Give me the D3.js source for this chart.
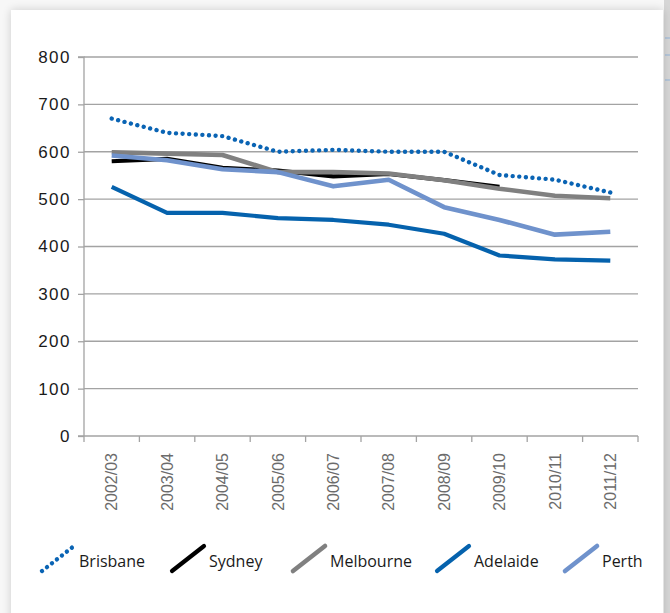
<!DOCTYPE html>
<html>
<head>
<meta charset="utf-8">
<script src="https://cdn.jsdelivr.net/npm/d3@7"></script>
<style>
  html, body { margin: 0; padding: 0; background: #ffffff; }
  svg { display: block; }
</style>
</head>
<body>
<svg id="chart" width="670" height="613"></svg>
<script>
// Financial years on the category axis
const years = ["2002/03", "2003/04", "2004/05", "2005/06", "2006/07",
               "2007/08", "2008/09", "2009/10", "2010/11", "2011/12"];

// Series values per city (Sydney has no data for the last two years)
const brisbane  = [670, 640, 633, 600, 604, 600, 600, 551, 541, 514];
const sydney    = [580, 585, 566, 560, 548, 553, 540, 526, null, null];
const melbourne = [599, 596, 593, 557, 557, 554, 540, 522, 507, 502];
const adelaide  = [526, 471, 471, 460, 456, 446, 427, 381, 373, 370];
const perth     = [592, 582, 563, 557, 527, 541, 483, 456, 425, 431];

const seriesNames = ["Brisbane", "Sydney", "Melbourne", "Adelaide", "Perth"];
const yTicks = [0, 100, 200, 300, 400, 500, 600, 700, 800];

const series = [
  { name: "Sydney",    values: sydney,    color: "#000000", width: 4.2, dotted: false },
  { name: "Melbourne", values: melbourne, color: "#808080", width: 4.6, dotted: false },
  { name: "Adelaide",  values: adelaide,  color: "#0562ad", width: 4.2, dotted: false },
  { name: "Perth",     values: perth,     color: "#6f92cc", width: 4.6, dotted: false },
  { name: "Brisbane",  values: brisbane,  color: "#0a64b4", width: 4.4, dotted: true }
];
const legendStyle = {
  Brisbane:  series[4], Sydney: series[0], Melbourne: series[1],
  Adelaide:  series[2], Perth: series[3]
};

const svg = d3.select("#chart");

// Page backdrop with a soft shadow round the white panel
const defs = svg.append("defs");
const shadow = defs.append("filter").attr("id", "panelShadow")
  .attr("x", "-5%").attr("y", "-5%").attr("width", "110%").attr("height", "110%");
shadow.append("feGaussianBlur").attr("in", "SourceAlpha").attr("stdDeviation", 5);
shadow.append("feComponentTransfer").append("feFuncA").attr("type", "linear").attr("slope", 0.18);
const merge = shadow.append("feMerge");
merge.append("feMergeNode");
merge.append("feMergeNode").attr("in", "SourceGraphic");

svg.append("rect").attr("width", 670).attr("height", 613).attr("fill", "#f7f7f7");
svg.append("rect").attr("x", 664).attr("y", 0).attr("width", 6).attr("height", 613).attr("fill", "#d6d6d6");
[38, 55, 80].forEach(yy => {
  svg.append("line").attr("x1", 665).attr("x2", 670).attr("y1", yy).attr("y2", yy)
    .attr("stroke", "#a9bfd8").attr("stroke-width", 1.5);
});
svg.append("rect").attr("x", 11).attr("y", 10).attr("width", 652).attr("height", 640)
  .attr("fill", "#ffffff").attr("filter", "url(#panelShadow)");

// Scales
const x = d3.scaleBand().domain(years).range([84, 638]);
const y = d3.scaleLinear().domain([0, 800]).range([436, 57]);
const cx = d => x(d) + x.bandwidth() / 2;

// Horizontal gridlines
svg.append("g").selectAll("line").data(yTicks.filter(v => v > 0)).join("line")
  .attr("x1", 84).attr("x2", 638)
  .attr("y1", d => y(d)).attr("y2", d => y(d))
  .attr("stroke", "#a3a3a3").attr("stroke-width", 1.3);

// Y axis
const yAxis = svg.append("g").attr("transform", "translate(84,0)")
  .call(d3.axisLeft(y).tickValues(yTicks).tickSize(6).tickPadding(7));
yAxis.select(".domain").attr("stroke", "#a3a3a3").attr("stroke-width", 1.3)
  .attr("d", `M-6,${y(800)}H0V${y(0)}`);
yAxis.selectAll(".tick line").attr("stroke", "#a3a3a3").attr("stroke-width", 1.3);
yAxis.selectAll(".tick text")
  .attr("fill", "#1a1a1a")
  .style("font-family", "'Liberation Sans', Arial, sans-serif")
  .style("font-size", "17px")
  .style("letter-spacing", "1.5px");

// X axis: ticks on the category boundaries, labels centred and rotated
const xAxis = svg.append("g");
xAxis.append("line").attr("x1", 78).attr("x2", 638).attr("y1", y(0)).attr("y2", y(0))
  .attr("stroke", "#a3a3a3").attr("stroke-width", 1.3);
const bounds = years.map(d => x(d)).concat([x.range()[1]]);
xAxis.selectAll("line.tick").data(bounds).join("line").attr("class", "tick")
  .attr("x1", d => d).attr("x2", d => d)
  .attr("y1", y(0)).attr("y2", y(0) + 6)
  .attr("stroke", "#a3a3a3").attr("stroke-width", 1.3);
xAxis.selectAll("text").data(years).join("text")
  .attr("transform", d => `translate(${cx(d)},453) rotate(-90)`)
  .attr("text-anchor", "end")
  .attr("dy", "0.36em")
  .attr("fill", "#6b6b6b")
  .style("font-family", "'Liberation Sans', Arial, sans-serif")
  .style("font-size", "16px")
  .text(d => d);

// Lines
const line = d3.line()
  .defined(d => d.v !== null)
  .x(d => cx(d.year))
  .y(d => y(d.v));

series.forEach(s => {
  const pts = years.map((yr, i) => ({ year: yr, v: s.values[i] }));
  const path = svg.append("path")
    .datum(pts)
    .attr("d", line)
    .attr("fill", "none")
    .attr("stroke", s.color)
    .attr("stroke-width", s.width)
    .attr("stroke-linejoin", "round");
  if (s.dotted) {
    path.attr("stroke-dasharray", "0.01 6.6").attr("stroke-linecap", "round");
  } else {
    path.attr("stroke-linecap", "butt");
  }
});

// Legend
const legendX = [42, 172, 293, 437, 565];
const legend = svg.append("g");
seriesNames.forEach((name, i) => {
  const s = legendStyle[name];
  const g = legend.append("g").attr("transform", `translate(${legendX[i]},0)`);
  const icon = g.append("line")
    .attr("x1", 0).attr("y1", 571).attr("x2", 32).attr("y2", 546)
    .attr("stroke", s.color).attr("stroke-width", s.width)
    .attr("stroke-linecap", "round");
  if (s.dotted) icon.attr("stroke-dasharray", "0.01 6.3");
  g.append("text")
    .attr("x", 37).attr("y", 567)
    .attr("fill", "#1a1a1a")
    .style("font-family", "'Open Sans', 'Noto Sans', sans-serif")
    .style("font-size", "16px")
    .text(name);
});
</script>
</body>
</html>
